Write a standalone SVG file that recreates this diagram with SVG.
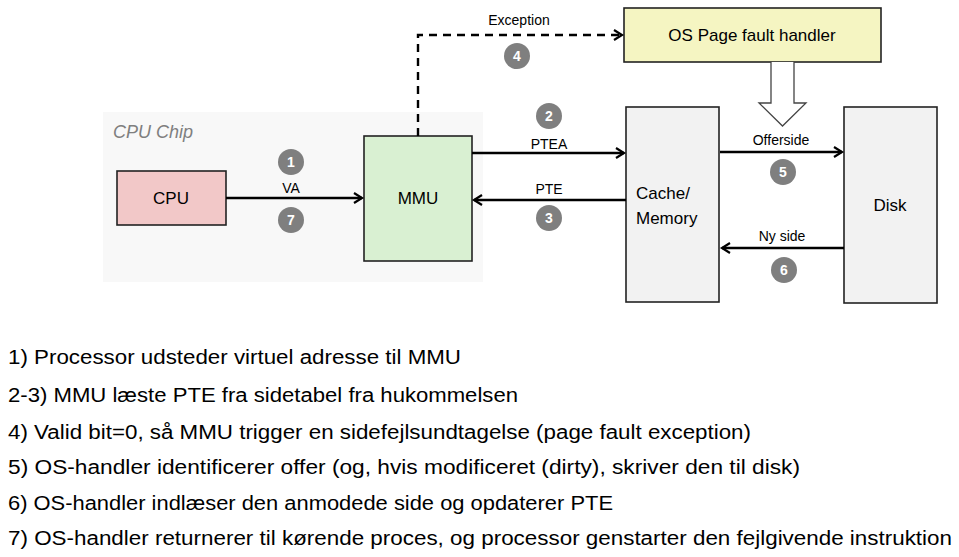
<svg xmlns="http://www.w3.org/2000/svg" width="959" height="557" viewBox="0 0 959 557">
<defs>
<style>
text{font-family:"Liberation Sans",Arial,sans-serif;fill:#000}
.box{stroke:#222;stroke-width:1.6}
.lbl{font-size:14px;text-anchor:middle}
.big{font-size:17px;text-anchor:middle}
.badge circle{fill:#7f7f7f}
.badge text{fill:#fff;font-size:14px;font-weight:bold;text-anchor:middle}
.conn{stroke:#000;stroke-width:2.4;fill:none}
.list{font-size:20px}
</style>
<marker id="ah" markerWidth="12" markerHeight="12" refX="9" refY="6" orient="auto" markerUnits="userSpaceOnUse">
<path d="M1,1 L9,6 L1,11" fill="none" stroke="#000" stroke-width="2.2"/>
</marker>
</defs>
<rect width="959" height="557" fill="#fff"/>
<g id="chip">
<rect x="103" y="112" width="380" height="170" fill="#f8f8f8"/>
<text x="113" y="138" font-size="18" font-style="italic" style="fill:#7f7f7f">CPU Chip</text>
</g>
<g id="cpu"><rect class="box" x="117" y="171" width="109" height="54" fill="#f2c8c8"/><text class="big" x="171" y="204">CPU</text></g>
<g id="mmu"><rect class="box" x="364" y="136" width="108" height="125" fill="#d9f0d2"/><text class="big" x="418" y="204">MMU</text></g>
<g id="os"><rect class="box" x="624" y="8" width="257" height="54" fill="#f5f5c2"/><text class="big" x="752" y="41">OS Page fault handler</text></g>
<g id="mem"><rect class="box" x="626" y="107" width="93" height="195" fill="#f2f2f2"/><text x="636" y="199" font-size="17">Cache/</text><text x="636" y="224" font-size="17">Memory</text></g>
<g id="disk"><rect class="box" x="844" y="107" width="93" height="196" fill="#f2f2f2"/><text class="big" x="890" y="211">Disk</text></g>
<g id="connectors">
<path class="conn" d="M226,198 H362" marker-end="url(#ah)"/>
<path class="conn" d="M418,136 V35 H622" stroke-dasharray="8,6" marker-end="url(#ah)"/>
<path class="conn" d="M472,153 H624" marker-end="url(#ah)"/>
<path class="conn" d="M626,200 H474" marker-end="url(#ah)"/>
<path class="conn" d="M720,152 H842" marker-end="url(#ah)"/>
<path class="conn" d="M844,248 H722" marker-end="url(#ah)"/>
<path d="M771,62 V103 H759 L782.5,126 L806,103 H794 V62" fill="#fff" stroke="#444" stroke-width="1.3"/>
</g>
<g id="labels">
<text class="lbl" x="291" y="193">VA</text>
<text class="lbl" x="519" y="25">Exception</text>
<text class="lbl" x="549" y="149">PTEA</text>
<text class="lbl" x="549" y="194">PTE</text>
<text class="lbl" x="781" y="145">Offerside</text>
<text class="lbl" x="782" y="241">Ny side</text>
</g>
<g id="badges">
<g class="badge"><circle cx="291" cy="162" r="13"/><text x="291" y="167">1</text></g>
<g class="badge"><circle cx="291" cy="220" r="13"/><text x="291" y="225">7</text></g>
<g class="badge"><circle cx="517" cy="56" r="13"/><text x="517" y="61">4</text></g>
<g class="badge"><circle cx="549" cy="116" r="13"/><text x="549" y="121">2</text></g>
<g class="badge"><circle cx="549" cy="218" r="13"/><text x="549" y="223">3</text></g>
<g class="badge"><circle cx="783" cy="172" r="13"/><text x="783" y="177">5</text></g>
<g class="badge"><circle cx="784" cy="270" r="13"/><text x="784" y="275">6</text></g>
</g>
<g id="list" class="list">
<text class="list" x="8" y="364" textLength="453" lengthAdjust="spacingAndGlyphs">1) Processor udsteder virtuel adresse til MMU</text>
<text class="list" x="8" y="402" textLength="510" lengthAdjust="spacingAndGlyphs">2-3) MMU læste PTE fra sidetabel fra hukommelsen</text>
<text class="list" x="8" y="439" textLength="743" lengthAdjust="spacingAndGlyphs">4) Valid bit=0, så MMU trigger en sidefejlsundtagelse (page fault exception)</text>
<text class="list" x="8" y="474" textLength="792" lengthAdjust="spacingAndGlyphs">5) OS-handler identificerer offer (og, hvis modificeret (dirty), skriver den til disk)</text>
<text class="list" x="8" y="510" textLength="605" lengthAdjust="spacingAndGlyphs">6) OS-handler indlæser den anmodede side og opdaterer PTE</text>
<text class="list" x="8" y="545" textLength="944" lengthAdjust="spacingAndGlyphs">7) OS-handler returnerer til kørende proces, og processor genstarter den fejlgivende instruktion</text>
</g>
</svg>
